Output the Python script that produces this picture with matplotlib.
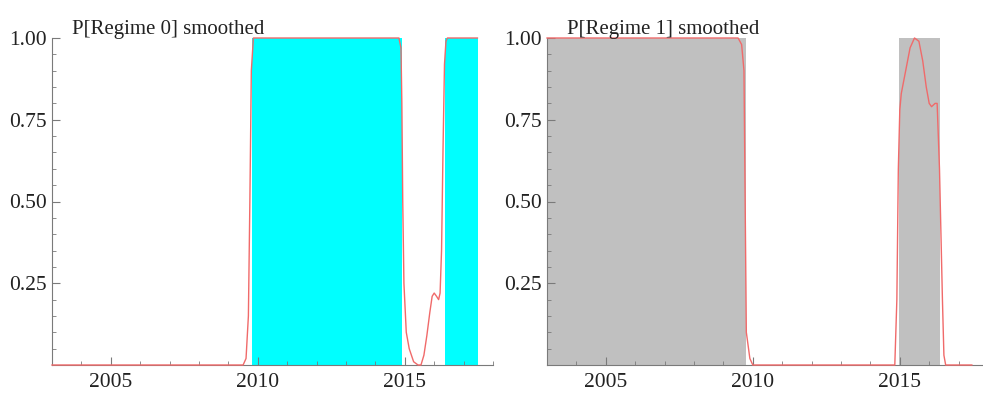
import matplotlib
matplotlib.use("Agg")
import matplotlib.pyplot as plt
from matplotlib.ticker import MultipleLocator, FixedLocator

# ---- data ----
r0_x = [2003.0, 2009.5, 2009.6, 2009.68, 2009.73, 2009.78, 2009.85, 2014.8, 2014.87,
        2014.9, 2014.93, 2014.97, 2015.05, 2015.15, 2015.3, 2015.45, 2015.55, 2015.65,
        2015.75, 2015.85, 2015.93, 2016.0, 2016.08, 2016.15, 2016.2, 2016.25, 2016.3,
        2016.35, 2016.4, 2016.45, 2017.47]
r0_y = [0.0, 0.0, 0.02, 0.15, 0.5, 0.9, 1.0, 1.0, 0.97,
        0.8, 0.5, 0.25, 0.1, 0.05, 0.01, 0.0, 0.0, 0.03,
        0.09, 0.16, 0.21, 0.22, 0.21, 0.2, 0.22, 0.35, 0.66,
        0.92, 0.99, 1.0, 1.0]

r1_x = [2003.0, 2009.5, 2009.62, 2009.7, 2009.74, 2009.78, 2009.9, 2010.0, 2014.83,
        2014.9, 2014.95, 2015.0, 2015.05, 2015.2, 2015.35, 2015.5, 2015.65, 2015.78,
        2015.9, 2016.0, 2016.08, 2016.2, 2016.27, 2016.35, 2016.45, 2016.5, 2016.56,
        2017.45]
r1_y = [1.0, 1.0, 0.98, 0.9, 0.5, 0.1, 0.02, 0.0, 0.0,
        0.2, 0.6, 0.78, 0.83, 0.9, 0.97, 1.0, 0.99, 0.93,
        0.85, 0.8, 0.79, 0.8, 0.8, 0.6, 0.2, 0.03, 0.0,
        0.0]

r0_span_start = [2009.8, 2016.36]
r0_span_end = [2014.92, 2017.48]
r1_span_start = [2003.0, 2014.98]
r1_span_end = [2009.76, 2016.37]

titles = ["P[Regime 0] smoothed", "P[Regime 1] smoothed"]
xticks = [2005, 2010, 2015]
yticks = [0.25, 0.50, 0.75, 1.00]
ytick_labels = ["0.25", "0.50", "0.75", "1.00"]

plt.rcParams['font.family'] = ['Liberation Serif', 'DejaVu Serif']

fig = plt.figure(figsize=(9.83, 3.94), dpi=100)
W, H = 983, 394
ax0 = fig.add_axes([52 / W, 1 - 365 / H, 441 / W, 327 / H])
ax1 = fig.add_axes([547 / W, 1 - 365 / H, 441 / W, 327 / H])

line_color = "#f06a6a"
spine_color = "#7a7a7a"

configs = [
    (ax0, r0_x, r0_y, r0_span_start, r0_span_end, "#00ffff", titles[0]),
    (ax1, r1_x, r1_y, r1_span_start, r1_span_end, "#c0c0c0", titles[1]),
]

for ax, xs, ys, ss, se, col, title in configs:
    for a, b in zip(ss, se):
        ax.axvspan(a, b, ymin=0, ymax=1, color=col, lw=0, zorder=1)
    ax.plot(xs, ys, color=line_color, lw=1.0, zorder=3, clip_on=False)
    ax.set_xlim(2003.0, 2018.0)
    ax.set_ylim(0, 1.0)
    for s in ['top', 'right']:
        ax.spines[s].set_visible(False)
    for s in ['left', 'bottom']:
        ax.spines[s].set_color(spine_color)
        ax.spines[s].set_linewidth(0.8)
    ax.xaxis.set_major_locator(FixedLocator(xticks))
    ax.xaxis.set_minor_locator(MultipleLocator(1))
    ax.yaxis.set_major_locator(FixedLocator(yticks))
    ax.set_yticklabels(ytick_labels)
    ax.yaxis.set_minor_locator(MultipleLocator(0.05))
    ax.tick_params(which='major', direction='in', length=6, width=0.8,
                   color=spine_color, labelsize=15.5, labelcolor="#222222")
    ax.tick_params(axis='x', which='major', pad=6)
    ax.tick_params(axis='y', which='major', pad=4)
    ax.tick_params(which='minor', direction='in', length=3, width=0.6,
                   color=spine_color)
    ax.text(0.045, 0.998, title, transform=ax.transAxes, ha='left', va='bottom',
            fontsize=15, color="#222222")
    ax.set_facecolor('white')

fig.savefig("out.png", dpi=100)
